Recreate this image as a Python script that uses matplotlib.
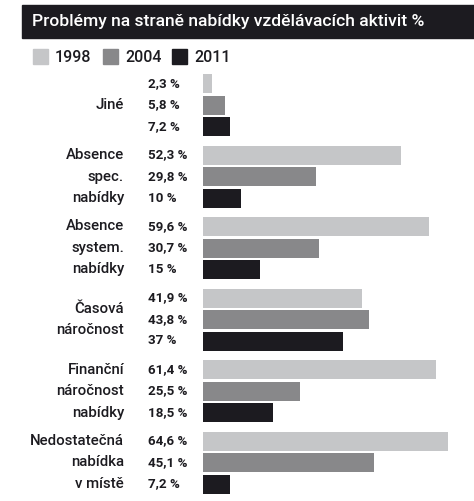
import matplotlib
matplotlib.use("Agg")
import matplotlib.pyplot as plt
import matplotlib.transforms as mtransforms
from matplotlib.patches import Rectangle

categories = ["Jiné", "Absence\nspec.\nnabídky", "Absence\nsystem.\nnabídky",
              "Časová\nnáročnost", "Finanční\nnáročnost\nnabídky",
              "Nedostatečná\nnabídka\nv místě"]
years = ["1998", "2004", "2011"]
v1998 = [2.3, 52.3, 59.6, 41.9, 61.4, 64.6]
v2004 = [5.8, 29.8, 30.7, 43.8, 25.5, 45.1]
v2011 = [7.2, 10, 15, 37, 18.5, 7.2]
colors = ["#c5c6c8", "#88888a", "#1c1b20"]

W, H = 474, 501
STEP = 21.5  # px between bars in a group
fig = plt.figure(figsize=(W / 100, H / 100), dpi=100)
plt.rcParams["font.family"] = ["Roboto", "DejaVu Sans"]

# title bar
fig.patches.append(Rectangle((22 / W, 1 - 38 / H), 1, 33 / H, transform=fig.transFigure,
                             color="#1c1b20", zorder=0))
fig.text(32 / W, 1 - 21.5 / H, "Problémy na straně nabídky vzdělávacích aktivit %",
         color="white", fontsize=12.6, fontweight="medium", va="center", ha="left")

# legend
lx = [33, 103, 172]
for x, c, y in zip(lx, colors, years):
    fig.patches.append(Rectangle((x / W, 1 - 64 / H), 15 / W, 15 / H,
                                 transform=fig.transFigure, color=c))
    fig.text((x + 22) / W, 1 - 57 / H, y, fontsize=11.5, fontweight="medium",
             va="center", ha="left", color="#1c1b20")

ax = fig.add_axes([203 / W, 0, (W - 203) / W, 1])
ax.set_xlim(0, (W - 203) / 3.79)
ax.set_ylim(H, 0)
ax.axis("off")

trans = mtransforms.blended_transform_factory(fig.transFigure, ax.transData)
series = [v1998, v2004, v2011]
for i, cat in enumerate(categories):
    yc = 105 + 71.5 * i
    for j, vals in enumerate(series):
        y = yc + (j - 1) * STEP
        ax.barh(y, vals[i], height=19, color=colors[j], left=0)
        txt = f"{vals[i]:g}".replace(".", ",") + " %"
        ax.text(148 / W, y, txt, transform=trans, fontsize=9.6, fontweight="bold",
                va="center", ha="left", color="#1c1b20")
    lines = cat.split("\n")
    n = len(lines)
    for k, line in enumerate(lines):
        ax.text(124 / W, yc + (k - (n - 1) / 2) * STEP, line, transform=trans,
                fontsize=10.8, fontweight="medium", va="center", ha="right",
                color="#1c1b20")

fig.savefig("out.png", dpi=100)
